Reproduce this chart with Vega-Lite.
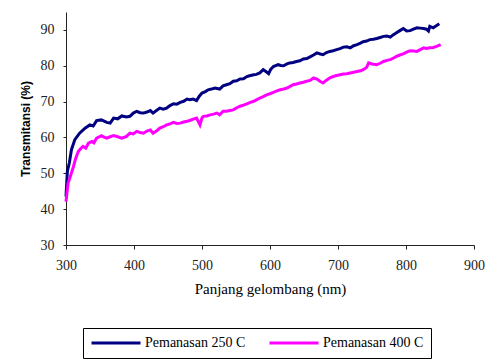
{
  "$schema": "https://vega.github.io/schema/vega-lite/v6.json",
  "autosize": {"type": "none"},
  "padding": {"left": 66, "top": 12, "right": 15, "bottom": 116},
  "width": 408,
  "height": 233,
  "background": "white",
  "config": {
    "view": {"stroke": null},
    "axis": {"grid": false, "domainColor": "#222", "tickColor": "#222", "labelColor": "#222", "titleColor": "#000", "labelOverlap": false, "labelFlush": false}
  },
  "datasets": {
    "blue": [
      {"nm":300,"T":43.5},{"nm":302,"T":50.5},{"nm":305,"T":53},{"nm":308,"T":56.6},{"nm":313,"T":59.4},{"nm":320,"T":61.2},{"nm":328,"T":62.6},{"nm":335,"T":63.5},{"nm":340,"T":63.2},{"nm":345,"T":64.7},{"nm":352,"T":64.9},{"nm":360,"T":64.2},{"nm":365,"T":64.0},{"nm":370,"T":65.4},{"nm":376,"T":65.2},{"nm":382,"T":66.0},{"nm":389,"T":65.7},{"nm":394,"T":65.9},{"nm":399,"T":66.8},{"nm":404,"T":67.3},{"nm":409,"T":66.9},{"nm":414,"T":66.8},{"nm":419,"T":67.1},{"nm":424,"T":67.5},{"nm":428,"T":66.8},{"nm":433,"T":67.5},{"nm":438,"T":68.2},{"nm":443,"T":67.9},{"nm":448,"T":68.2},{"nm":453,"T":68.9},{"nm":458,"T":69.4},{"nm":463,"T":69.3},{"nm":468,"T":69.8},{"nm":473,"T":70.1},{"nm":478,"T":70.7},{"nm":482,"T":70.5},{"nm":487,"T":70.7},{"nm":492,"T":70.3},{"nm":496,"T":71.5},{"nm":500,"T":72.4},{"nm":505,"T":72.8},{"nm":509,"T":73.3},{"nm":514,"T":73.5},{"nm":519,"T":73.8},{"nm":526,"T":73.5},{"nm":531,"T":74.4},{"nm":536,"T":74.7},{"nm":541,"T":75.0},{"nm":546,"T":75.7},{"nm":551,"T":75.8},{"nm":556,"T":76.3},{"nm":561,"T":76.4},{"nm":566,"T":77.0},{"nm":570,"T":77.2},{"nm":576,"T":77.5},{"nm":580,"T":77.6},{"nm":585,"T":78.0},{"nm":590,"T":78.9},{"nm":594,"T":78.4},{"nm":598,"T":77.8},{"nm":601,"T":79.0},{"nm":605,"T":79.8},{"nm":612,"T":80.3},{"nm":616,"T":80.1},{"nm":620,"T":80.0},{"nm":625,"T":80.5},{"nm":629,"T":80.8},{"nm":634,"T":80.9},{"nm":639,"T":81.2},{"nm":644,"T":81.4},{"nm":649,"T":81.9},{"nm":654,"T":82.0},{"nm":659,"T":82.5},{"nm":664,"T":83.0},{"nm":669,"T":83.6},{"nm":674,"T":83.3},{"nm":678,"T":83.1},{"nm":683,"T":83.7},{"nm":688,"T":84.0},{"nm":693,"T":84.2},{"nm":698,"T":84.5},{"nm":703,"T":84.8},{"nm":708,"T":85.2},{"nm":713,"T":85.3},{"nm":718,"T":85.0},{"nm":723,"T":85.6},{"nm":728,"T":85.9},{"nm":733,"T":86.3},{"nm":737,"T":86.7},{"nm":742,"T":86.9},{"nm":747,"T":87.3},{"nm":752,"T":87.4},{"nm":757,"T":87.6},{"nm":762,"T":87.9},{"nm":767,"T":88.2},{"nm":772,"T":88.3},{"nm":777,"T":88.0},{"nm":781,"T":88.6},{"nm":786,"T":89.2},{"nm":791,"T":89.8},{"nm":796,"T":90.4},{"nm":801,"T":89.7},{"nm":806,"T":89.8},{"nm":811,"T":90.2},{"nm":816,"T":90.6},{"nm":821,"T":90.5},{"nm":826,"T":90.4},{"nm":830,"T":90.2},{"nm":833,"T":89.7},{"nm":835,"T":91.0},{"nm":840,"T":90.6},{"nm":844,"T":91.1},{"nm":849,"T":91.7}
    ],
    "pink": [
      {"nm":300,"T":42.1},{"nm":303,"T":47.2},{"nm":307,"T":49.5},{"nm":311,"T":51.9},{"nm":314,"T":54.0},{"nm":318,"T":56.1},{"nm":322,"T":57.0},{"nm":325,"T":57.5},{"nm":329,"T":57.0},{"nm":333,"T":58.4},{"nm":338,"T":58.9},{"nm":341,"T":58.5},{"nm":345,"T":59.8},{"nm":349,"T":60.2},{"nm":352,"T":60.5},{"nm":356,"T":60.1},{"nm":360,"T":59.8},{"nm":365,"T":60.2},{"nm":370,"T":60.5},{"nm":376,"T":60.2},{"nm":382,"T":59.8},{"nm":389,"T":60.3},{"nm":394,"T":61.2},{"nm":399,"T":61.0},{"nm":404,"T":61.7},{"nm":409,"T":61.4},{"nm":414,"T":61.2},{"nm":419,"T":61.8},{"nm":424,"T":62.1},{"nm":428,"T":61.2},{"nm":433,"T":61.8},{"nm":438,"T":62.6},{"nm":443,"T":63.0},{"nm":448,"T":63.5},{"nm":453,"T":63.8},{"nm":458,"T":64.2},{"nm":463,"T":63.9},{"nm":468,"T":64.0},{"nm":473,"T":64.3},{"nm":478,"T":64.5},{"nm":483,"T":64.8},{"nm":487,"T":65.1},{"nm":492,"T":65.4},{"nm":497,"T":63.5},{"nm":500,"T":65.5},{"nm":502,"T":65.9},{"nm":507,"T":66.0},{"nm":512,"T":66.3},{"nm":517,"T":66.5},{"nm":522,"T":66.8},{"nm":526,"T":66.3},{"nm":531,"T":67.3},{"nm":536,"T":67.3},{"nm":541,"T":67.5},{"nm":546,"T":67.7},{"nm":551,"T":68.3},{"nm":556,"T":68.7},{"nm":561,"T":69.0},{"nm":566,"T":69.4},{"nm":571,"T":69.8},{"nm":576,"T":70.1},{"nm":580,"T":70.5},{"nm":585,"T":71.0},{"nm":590,"T":71.4},{"nm":595,"T":71.9},{"nm":600,"T":72.2},{"nm":605,"T":72.6},{"nm":610,"T":73.0},{"nm":615,"T":73.3},{"nm":620,"T":73.5},{"nm":625,"T":73.8},{"nm":629,"T":74.2},{"nm":634,"T":74.7},{"nm":639,"T":74.9},{"nm":644,"T":75.2},{"nm":649,"T":75.4},{"nm":654,"T":75.7},{"nm":659,"T":75.9},{"nm":664,"T":76.6},{"nm":669,"T":76.3},{"nm":674,"T":75.6},{"nm":678,"T":75.2},{"nm":683,"T":76.0},{"nm":688,"T":76.6},{"nm":693,"T":77.0},{"nm":698,"T":77.3},{"nm":703,"T":77.5},{"nm":708,"T":77.7},{"nm":713,"T":77.8},{"nm":718,"T":78.0},{"nm":723,"T":78.2},{"nm":728,"T":78.4},{"nm":733,"T":78.6},{"nm":737,"T":78.9},{"nm":742,"T":79.5},{"nm":745,"T":80.8},{"nm":750,"T":80.5},{"nm":757,"T":80.3},{"nm":762,"T":80.7},{"nm":767,"T":81.2},{"nm":772,"T":81.5},{"nm":777,"T":81.7},{"nm":781,"T":82.1},{"nm":786,"T":82.6},{"nm":791,"T":83.0},{"nm":796,"T":83.3},{"nm":801,"T":83.8},{"nm":806,"T":84.2},{"nm":811,"T":84.1},{"nm":816,"T":84.0},{"nm":821,"T":84.5},{"nm":826,"T":85.0},{"nm":830,"T":84.8},{"nm":835,"T":85.0},{"nm":840,"T":85.1},{"nm":845,"T":85.4},{"nm":851,"T":85.9}
    ]
  },
  "encoding": {
    "x": {"field": "nm", "type": "quantitative",
      "scale": {"domain": [300, 900], "nice": false, "zero": false},
      "axis": {"title": "Panjang gelombang (nm)", "values": [300,400,500,600,700,800,900], "tickSize": 4, "labelPadding": 9, "labelOverlap": false, "labelFlush": false, "labelFont": "Liberation Serif", "labelFontSize": 14, "titleFont": "Liberation Serif", "titleFontSize": 15, "titleFontWeight": "normal", "titlePadding": 9}},
    "y": {"field": "T", "type": "quantitative",
      "scale": {"domain": [30, 95], "nice": false, "zero": false},
      "axis": {"title": "Transmitansi (%)", "values": [30,40,50,60,70,80,90], "tickSize": 3, "labelPadding": 9, "labelOverlap": false, "labelFlush": false, "labelFont": "Liberation Serif", "labelFontSize": 14, "titleFont": "Liberation Sans", "titleFontSize": 12, "titleFontWeight": "bold", "titlePadding": 8}},
    "color": {"field": "series", "type": "nominal",
      "scale": {"domain": ["Pemanasan 250 C", "Pemanasan 400 C"], "range": ["#000080", "#FF00FF"]},
      "legend": {"title": null, "orient": "none", "legendX": 17, "legendY": 316, "direction": "horizontal",
        "symbolType": "stroke", "symbolSize": 2401, "symbolStrokeWidth": 3, "clipHeight": 16,
        "labelFont": "Liberation Serif", "labelFontSize": 14, "labelColor": "#000", "labelOffset": 3,
        "columnPadding": 22, "padding": 7, "strokeColor": "#000", "fillColor": "white"}}
  },
  "layer": [
    {
      "data": {"name": "blue"},
      "transform": [{"calculate": "'Pemanasan 250 C'", "as": "series"}],
      "mark": {"type": "line", "strokeWidth": 3}
    },
    {
      "data": {"name": "pink"},
      "transform": [{"calculate": "'Pemanasan 400 C'", "as": "series"}],
      "mark": {"type": "line", "strokeWidth": 3}
    }
  ]
}
